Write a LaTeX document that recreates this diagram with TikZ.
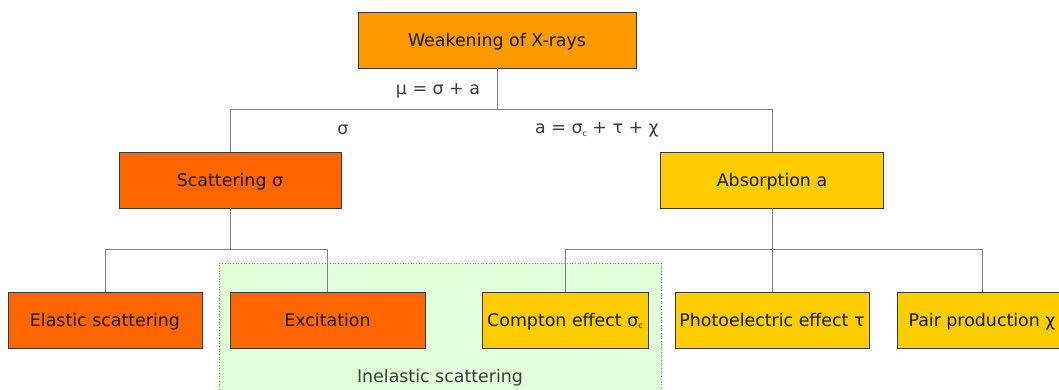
\documentclass[tikz,border=0pt]{standalone}
\usepackage{fontspec}
\setmainfont{DejaVu Sans}
\definecolor{topfill}{HTML}{FF9900}
\definecolor{scatfill}{HTML}{FF6600}
\definecolor{absfill}{HTML}{FFCC00}
\definecolor{inelfill}{HTML}{E1FFD9}
\definecolor{boxline}{HTML}{3A3A3A}
\definecolor{wire}{HTML}{808080}
\definecolor{ink}{HTML}{1A1A1A}
\newcommand{\subc}{\raisebox{-0.25ex}{\fontsize{8bp}{8bp}\selectfont c}}
\tikzset{
  box/.style={draw=boxline, line width=0.8bp, minimum height=56bp, inner sep=0pt,
    text height=13bp, text depth=0bp,
    text=ink, font=\fontsize{17.4bp}{20bp}\selectfont},
  wireline/.style={draw=wire, line width=0.8bp},
  formula/.style={text=ink!85, font=\fontsize{17.4bp}{20bp}\selectfont, inner sep=0pt}
}
\begin{document}
\begin{tikzpicture}[x=1bp, y=-1bp]
  \clip (0,0) rectangle (1059,389);
  \fill[white] (0,0) rectangle (1059,389);

  % inelastic scattering region
  \node[draw=wire, dotted, line width=0.7bp, fill=inelfill, anchor=north west,
        minimum width=442bp, minimum height=140bp, inner sep=0pt] (inel) at (219,263) {};
  \node[formula] (inellabel) at (440,378) {Inelastic scattering};

  % boxes
  \node[box, fill=topfill, minimum width=278bp] (top) at (497,40) {Weakening of X-rays};
  \node[box, fill=scatfill, minimum width=222bp] (scat) at (230,180) {Scattering σ};
  \node[box, fill=absfill, minimum width=223bp] (abs) at (772,180) {Absorption a};
  \node[box, fill=scatfill, minimum width=194bp] (elast) at (105,320) {Elastic scattering};
  \node[box, fill=scatfill, minimum width=195bp] (excit) at (327.5,320) {Excitation};
  \node[box, fill=absfill, minimum width=166bp] (compt) at (565,320) {Compton effect σ\subc};
  \node[box, fill=absfill, minimum width=194bp] (photo) at (772,320) {Photoelectric effect τ};
  \node[box, fill=absfill, minimum width=170bp] (pair) at (982,320) {Pair production χ};

  % junctions
  \coordinate (j1) at (497,109);
  \coordinate (j2) at (230,249);
  \coordinate (j3) at (772,249);

  % connectors
  \draw[wireline] (top.south) -- (j1) -| (scat.north);
  \draw[wireline] (j1) -| (abs.north);
  \draw[wireline] (scat.south) -- (j2) -| (elast.north);
  \draw[wireline] (j2) -| (excit.north);
  \draw[wireline] (abs.south) -- (j3) -| (compt.north);
  \draw[wireline] (j3) -- (photo.north);
  \draw[wireline] (j3) -| (pair.north);

  % formulas
  \node[formula] (mu) at (438,91) {μ = σ + a};
  \node[formula] (sig) at (343,130) {σ};
  \node[formula] (aeq) at (597,130) {a = σ\subc{} + τ + χ};
\end{tikzpicture}
\end{document}
